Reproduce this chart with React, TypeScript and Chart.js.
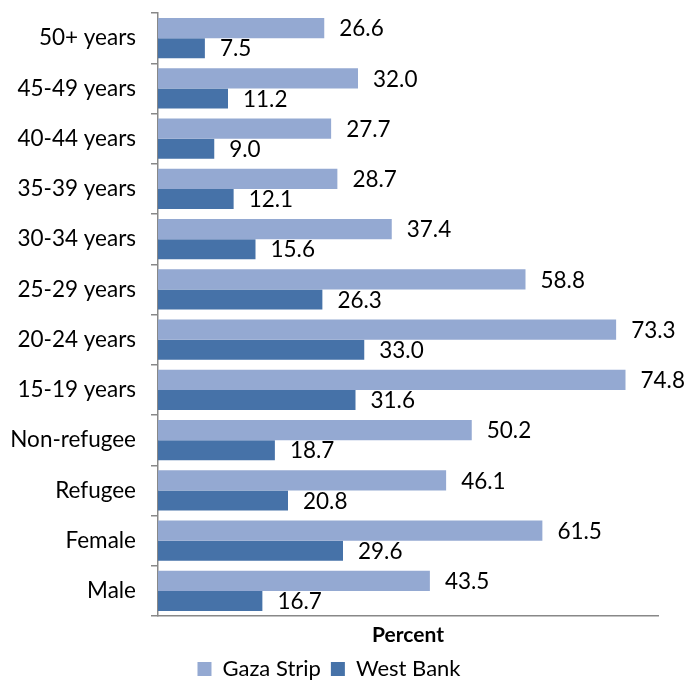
import React, { useEffect, useRef } from "react";
import { Chart, registerables } from "chart.js";

Chart.register(...registerables);

const categories = [
  "50+ years",
  "45-49 years",
  "40-44 years",
  "35-39 years",
  "30-34 years",
  "25-29 years",
  "20-24 years",
  "15-19 years",
  "Non-refugee",
  "Refugee",
  "Female",
  "Male",
];
const gazaValues = [26.6, 32.0, 27.7, 28.7, 37.4, 58.8, 73.3, 74.8, 50.2, 46.1, 61.5, 43.5];
const westBankValues = [7.5, 11.2, 9.0, 12.1, 15.6, 26.3, 33.0, 31.6, 18.7, 20.8, 29.6, 16.7];
const seriesNames = ["Gaza Strip", "West Bank"];
const axisTitle = "Percent";

const FONT = "Lato, 'Open Sans', sans-serif";

const valueLabels = {
  id: "valueLabels",
  afterDatasetsDraw(chart: any) {
    const ctx = chart.ctx;
    ctx.save();
    ctx.font = `22.5px ${FONT}`;
    ctx.fillStyle = "#000";
    ctx.textAlign = "left";
    ctx.textBaseline = "middle";
    chart.data.datasets.forEach((ds: any, i: number) => {
      const meta = chart.getDatasetMeta(i);
      meta.data.forEach((bar: any, j: number) => {
        const v = ds.data[j];
        ctx.fillText(v.toFixed(1), bar.x + 15, bar.y + 1);
      });
    });
    ctx.restore();
  },
};

export default function App() {
  const ref = useRef<HTMLCanvasElement>(null);
  useEffect(() => {
    document.body.style.margin = "0";
    const chart = new Chart(ref.current!, {
      type: "bar",
      data: {
        labels: categories,
        datasets: [
          {
            label: seriesNames[0],
            data: gazaValues,
            backgroundColor: "#94a9d2",
            borderWidth: 0,
          },
          {
            label: seriesNames[1],
            data: westBankValues,
            backgroundColor: "#4672a8",
            borderWidth: 0,
          },
        ],
      },
      options: {
        indexAxis: "y",
        animation: false,
        responsive: false,
        maintainAspectRatio: false,
        layout: { padding: { top: 13, right: 35, left: 0, bottom: -10 } },
        datasets: {
          bar: { categoryPercentage: 0.8, barPercentage: 1.0 },
        },
        scales: {
          x: {
            min: 0,
            max: 80,
            ticks: { display: false },
            grid: { display: false },
            border: { display: true, color: "#888", width: 1.5 },
            title: {
              display: true,
              text: axisTitle,
              color: "#000",
              font: { family: FONT, size: 21, weight: "bold" },
              padding: { top: 7, bottom: 0 },
            },
            afterFit: (scale: any) => {
              scale.height = 32;
              scale.paddingLeft = 0;
              scale.paddingRight = 0;
            },
          },
          y: {
            ticks: {
              color: "#000",
              font: { family: FONT, size: 22.5 },
              padding: 15,
            },
            grid: {
              drawOnChartArea: false,
              drawTicks: true,
              tickLength: 7,
              color: "#888",
              lineWidth: 1.5,
            },
            border: { display: true, color: "#888", width: 1.5 },
            afterFit: (scale: any) => {
              scale.width = 158;
              scale.paddingTop = 0;
              scale.paddingBottom = 0;
            },
          },
        },
        plugins: {
          legend: {
            position: "bottom",
            labels: {
              color: "#000",
              font: { family: FONT, size: 22 },
              boxWidth: 14,
              boxHeight: 14,
              padding: 10,
            },
          },
          tooltip: { enabled: false },
        },
      },
      plugins: [valueLabels],
    });
    return () => chart.destroy();
  }, []);
  return <canvas ref={ref} width={693} height={680} style={{ display: "block" }} />;
}
